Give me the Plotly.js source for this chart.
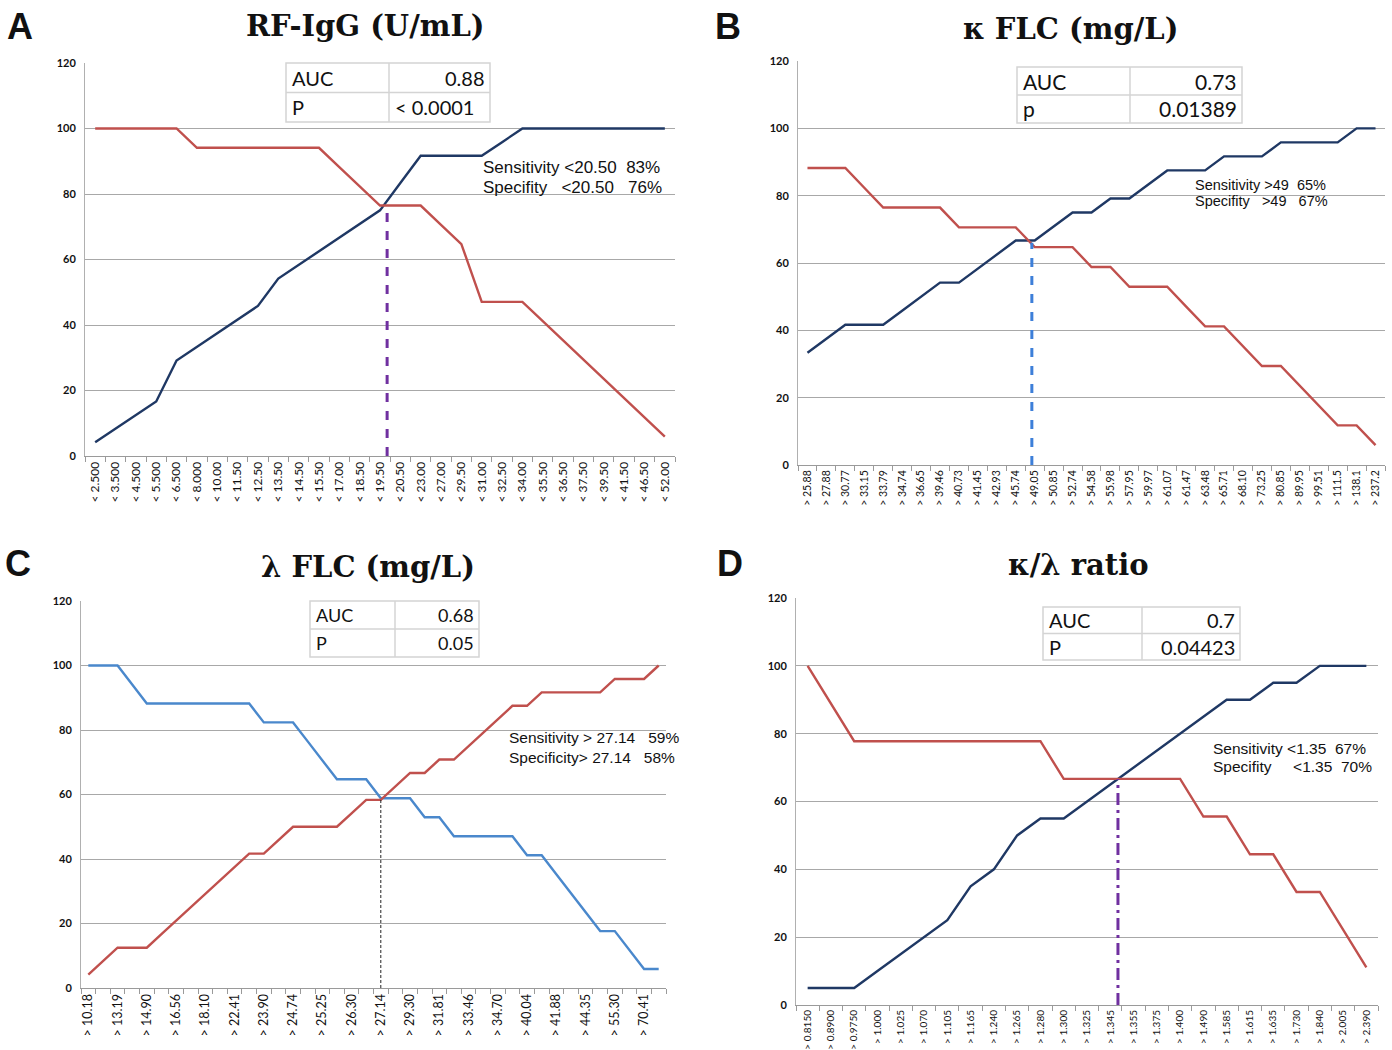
<!DOCTYPE html>
<html><head><meta charset="utf-8">
<script src="https://cdn.plot.ly/plotly-3.0.1.min.js"></script>
<style>body{margin:0;background:#fff}</style>
</head><body>
<div id="chart" style="width:1392px;height:1050px"></div>
<script>
// ---------- Panel A: RF-IgG ----------
const aLabels = ["< 2.500","< 3.500","< 4.500","< 5.500","< 6.500","< 8.000","< 10.00","< 11.50","< 12.50","< 13.50","< 14.50","< 15.50","< 17.00","< 18.50","< 19.50","< 20.50","< 23.00","< 27.00","< 29.50","< 31.00","< 32.50","< 34.00","< 35.50","< 36.50","< 37.50","< 39.50","< 41.50","< 46.50","< 52.00"];
const aNavy = [4.17,8.33,12.5,16.67,29.17,33.33,37.5,41.67,45.83,54.17,58.33,62.5,66.67,70.83,75,83.33,91.67,91.67,91.67,91.67,95.83,100,100,100,100,100,100,100,100];
const aRed  = [100,100,100,100,100,94.12,94.12,94.12,94.12,94.12,94.12,94.12,88.24,82.35,76.47,76.47,76.47,70.59,64.71,47.06,47.06,47.06,41.18,35.29,29.41,23.53,17.65,11.76,5.88];
const aCut = [14.35, 76.47];
const aTable = [["AUC","0.88"],["P","< 0.0001"]];
const aNote = ["Sensitivity <20.50\u00a0\u00a083%","Specifity\u00a0\u00a0\u00a0<20.50\u00a0\u00a0\u00a076%"];

// ---------- Panel B: kappa FLC ----------
const bLabels = ["> 25.88","> 27.88","> 30.77","> 33.15","> 33.79","> 34.74","> 36.65","> 39.46","> 40.73","> 41.45","> 42.93","> 45.74","> 49.05","> 50.85","> 52.74","> 54.58","> 55.98","> 57.95","> 59.97","> 61.07","> 61.47","> 63.48","> 65.71","> 68.10","> 73.25","> 80.85","> 89.95","> 99.51","> 111.5","> 138.1","> 237.2"];
const bNavy = [33.33,37.5,41.67,41.67,41.67,45.83,50,54.17,54.17,58.33,62.5,66.67,66.67,70.83,75,75,79.17,79.17,83.33,87.5,87.5,87.5,91.67,91.67,91.67,95.83,95.83,95.83,95.83,100,100];
const bRed  = [88.24,88.24,88.24,82.35,76.47,76.47,76.47,76.47,70.59,70.59,70.59,70.59,64.71,64.71,64.71,58.82,58.82,52.94,52.94,52.94,47.06,41.18,41.18,35.29,29.41,29.41,23.53,17.65,11.76,11.76,5.88];
const bCut = [11.85, 66.0];
const bTable = [["AUC","0.73"],["p","0.01389"]];
const bNote = ["Sensitivity >49\u00a0\u00a065%","Specifity\u00a0\u00a0\u00a0>49\u00a0\u00a0\u00a067%"];

// ---------- Panel C: lambda FLC ----------
const cLabels = ["> 10.18","> 13.19","> 14.90","> 16.56","> 18.10","> 22.41","> 23.90","> 24.74","> 25.25","> 26.30","> 27.14","> 29.30","> 31.81","> 33.46","> 34.70","> 40.04","> 41.88","> 44.35","> 55.30","> 70.41"];
const cBlue = [100,100,100,94.12,88.24,88.24,88.24,88.24,88.24,88.24,88.24,88.24,82.35,82.35,82.35,76.47,70.59,64.71,64.71,64.71,58.82,58.82,58.82,52.94,52.94,47.06,47.06,47.06,47.06,47.06,41.18,41.18,35.29,29.41,23.53,17.65,17.65,11.76,5.88,5.88];
const cRed  = [4.17,8.33,12.5,12.5,12.5,16.67,20.83,25,29.17,33.33,37.5,41.67,41.67,45.83,50,50,50,50,54.17,58.33,58.33,62.5,66.67,66.67,70.83,70.83,75,79.17,83.33,87.5,87.5,91.67,91.67,91.67,91.67,91.67,95.83,95.83,95.83,100];
const cCut = [20, 58.8];
const cTable = [["AUC","0.68"],["P","0.05"]];
const cNote = ["Sensitivity > 27.14\u00a0\u00a0\u00a059%","Specificity> 27.14\u00a0\u00a0\u00a058%"];

// ---------- Panel D: kappa/lambda ratio ----------
const dLabels = ["> 0.8150","> 0.8900","> 0.9750","> 1.000","> 1.025","> 1.070","> 1.105","> 1.165","> 1.240","> 1.265","> 1.280","> 1.300","> 1.325","> 1.345","> 1.355","> 1.375","> 1.400","> 1.490","> 1.585","> 1.615","> 1.635","> 1.730","> 1.840","> 2.005","> 2.390"];
const dNavy = [5,5,5,10,15,20,25,35,40,50,55,55,60,65,70,75,80,85,90,90,95,95,100,100,100];
const dRed  = [100,88.89,77.78,77.78,77.78,77.78,77.78,77.78,77.78,77.78,77.78,66.67,66.67,66.67,66.67,66.67,66.67,55.56,55.56,44.44,44.44,33.33,33.33,22.22,11.11];
const dCut = [13.33, 66.67];
const dTable = [["AUC","0.7"],["P","0.04423"]];
const dNote = ["Sensitivity <1.35\u00a0\u00a067%","Specifity\u00a0\u00a0\u00a0\u00a0\u00a0<1.35\u00a0\u00a070%"];

const W = 1392, H = 1050;
const px = v => v / W, py = v => 1 - v / H;

const NAVY = "#1f3864", RED = "#c0504d", LBLUE = "#4a88cc";

const panels = [
  {id:"", letter:"A", title:"RF-IgG (U/mL)", titleX:365, titleY:26, letterX:20, letterY:26,
   labels:aLabels, every:1, series:[[aNavy,NAVY],[aRed,RED]], cut:aCut, cutColor:"#7030a0", cutDash:"dash", cutW:3,
   box:[85,675,63,456], tickSize:12, table:aTable, tbl:[286,389,490,63,122], tfs:20, valLeft:true,
   note:aNote, noteX:481, noteY:[167,188], nfs:17},
  {id:"2", letter:"B", title:"\u03ba FLC (mg/L)", titleX:1070, titleY:29, letterX:728, letterY:26,
   labels:bLabels, every:1, series:[[bNavy,NAVY],[bRed,RED]], cut:bCut, cutColor:"#3d7fd9", cutDash:"dash", cutW:3,
   box:[798,1385,61,465], tickSize:10.5, table:bTable, tbl:[1017,1130,1242,67,123], tfs:21, valLeft:false,
   note:bNote, noteX:1193, noteY:[185,201], nfs:14.5},
  {id:"3", letter:"C", title:"\u03bb FLC (mg/L)", titleX:368, titleY:567, letterX:18, letterY:563,
   labels:cLabels, every:2, series:[[cBlue,LBLUE],[cRed,RED]], cut:cCut, cutColor:"#222222", cutDash:"3px,2px", cutW:1,
   box:[81,666,601,988], tickSize:12.5, table:cTable, tbl:[310,395,479,601,657], tfs:18, valLeft:false,
   note:cNote, noteX:507, noteY:[737,757], nfs:15.5},
  {id:"4", letter:"D", title:"\u03ba/\u03bb ratio", titleX:1078, titleY:565, letterX:730, letterY:563,
   labels:dLabels, every:1, series:[[dNavy,NAVY],[dRed,RED]], cut:dCut, cutColor:"#7030a0", cutDash:"12px,5px,3px,5px", cutW:3,
   box:[796,1378,598,1005], tickSize:10, table:dTable, tbl:[1043,1142,1240,607,660], tfs:20, valLeft:false,
   note:dNote, noteX:1211, noteY:[748,766], nfs:15.5}
];

const traces = [], shapes = [], annotations = [];
const layout = {width:W, height:H, margin:{l:0,r:0,t:0,b:0}, showlegend:false,
  paper_bgcolor:"#fff", plot_bgcolor:"#fff", font:{family:"Liberation Sans, Arial, sans-serif", color:"#222"}};

panels.forEach(p => {
  const xa = "x" + p.id, ya = "y" + p.id;
  const n = p.series[0][0].length;
  const xs = p.series[0][0].map((_, i) => i);
  p.series.forEach(([vals, col]) => {
    traces.push({type:"scatter", mode:"lines", x:xs, y:vals, xaxis:xa, yaxis:ya,
      line:{color:col, width:2.4}, hoverinfo:"skip"});
  });
  traces.push({type:"scatter", mode:"lines", x:[p.cut[0], p.cut[0]], y:[0, p.cut[1]], xaxis:xa, yaxis:ya,
    line:{color:p.cutColor, width:p.cutW, dash:p.cutDash}, hoverinfo:"skip"});

  const [x0, x1, yT, yB] = p.box;
  layout["xaxis" + p.id] = {
    domain:[px(x0), px(x1)], anchor:ya, range:[-0.5, n - 0.5],
    tickmode:"array", tickvals:p.labels.map((_, i) => i * p.every), ticktext:p.labels,
    tickangle:-90, ticks:"", tickfont:{size:p.tickSize, color:"#111", family:"Lato, Liberation Sans, sans-serif"},
    showgrid:false, zeroline:false, showline:true, linecolor:"#9a9a9a", linewidth:1,
    minor:{tickmode:"linear", tick0:-0.5, dtick:1, ticks:"outside", ticklen:5, tickcolor:"#9a9a9a", showgrid:false},
    fixedrange:true
  };
  layout["yaxis" + p.id] = {
    domain:[py(yB), py(yT)], anchor:xa, range:[0, 120], dtick:20, tick0:0,
    ticks:"", tickfont:{size:11, color:"#111", family:"Lato, Liberation Sans, sans-serif", weight:"bold"},
    showgrid:true, gridcolor:"#a8a8a8", gridwidth:1, zeroline:false,
    showline:true, linecolor:"#b0b0b0", linewidth:1, ticklabelstandoff:6, fixedrange:true
  };

  // Titles and letters
  annotations.push({xref:"paper", yref:"paper", x:px(p.titleX), y:py(p.titleY), xanchor:"center", yanchor:"middle",
    text:"<b>" + p.title + "</b>", showarrow:false, font:{family:"DejaVu Serif, serif", size:29, color:"#111"}});
  annotations.push({xref:"paper", yref:"paper", x:px(p.letterX), y:py(p.letterY), xanchor:"center", yanchor:"middle",
    text:"<b>" + p.letter + "</b>", showarrow:false, font:{family:"Liberation Sans, Arial, sans-serif", size:36, color:"#111"}});

  // Table
  const [tx0, tdiv, tx1, ty0, ty1] = p.tbl;
  const tym = (ty0 + ty1) / 2;
  shapes.push({type:"rect", xref:"paper", yref:"paper", x0:px(tx0), x1:px(tx1), y0:py(ty1), y1:py(ty0),
    line:{color:"#d4d4d4", width:1.5}, fillcolor:"#ffffff", layer:"above"});
  shapes.push({type:"line", xref:"paper", yref:"paper", x0:px(tdiv), x1:px(tdiv), y0:py(ty1), y1:py(ty0),
    line:{color:"#d4d4d4", width:1.5}, layer:"above"});
  shapes.push({type:"line", xref:"paper", yref:"paper", x0:px(tx0), x1:px(tx1), y0:py(tym), y1:py(tym),
    line:{color:"#d4d4d4", width:1.5}, layer:"above"});
  p.table.forEach((row, r) => {
    const cy = r === 0 ? (ty0 + tym) / 2 : (tym + ty1) / 2;
    annotations.push({xref:"paper", yref:"paper", x:px(tx0 + 4), y:py(cy), xanchor:"left", yanchor:"middle",
      text:row[0], showarrow:false, font:{family:"Lato, sans-serif", size:p.tfs, color:"#111"}});
    const leftVal = p.valLeft && r === 1;
    annotations.push({xref:"paper", yref:"paper", x:leftVal ? px(tdiv + 4) : px(tx1 - 3), y:py(cy),
      xanchor:leftVal ? "left" : "right", yanchor:"middle",
      text:row[1], showarrow:false, font:{family:"Lato, sans-serif", size:p.tfs, color:"#111"}});
  });

  // Sensitivity / specificity note
  p.note.forEach((t, i) => {
    annotations.push({xref:"paper", yref:"paper", x:px(p.noteX), y:py(p.noteY[i]), xanchor:"left", yanchor:"middle",
      text:t, showarrow:false, font:{family:"Liberation Sans, Arial, sans-serif", size:p.nfs, color:"#111"}});
  });
});

layout.shapes = shapes;
layout.annotations = annotations;
Plotly.newPlot("chart", traces, layout, {staticPlot:true});
</script>
</body></html>
